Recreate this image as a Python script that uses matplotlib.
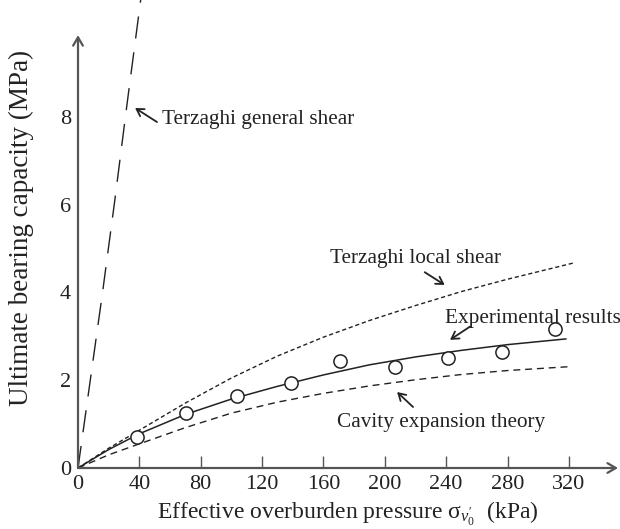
import matplotlib
matplotlib.use("Agg")
import matplotlib.pyplot as plt

plt.rcParams['font.family'] = ['Liberation Serif', 'DejaVu Serif']
plt.rcParams['mathtext.fontset'] = 'custom'
plt.rcParams['mathtext.rm'] = 'Liberation Serif'
plt.rcParams['mathtext.it'] = 'Liberation Serif:italic'

# bearing capacity curves (kPa -> MPa)
general_x = [0, 8, 16, 24, 32, 41]
general_y = [0, 2.0, 4.0, 6.1, 8.3, 10.7]

local_x = [0, 20, 40, 70, 100, 130, 160, 190, 220, 250, 280, 323]
local_y = [0, 0.45, 0.86, 1.48, 2.05, 2.55, 2.98, 3.36, 3.70, 4.02, 4.30, 4.67]

cavity_x = [0, 20, 40, 70, 100, 130, 160, 190, 220, 250, 280, 321]
cavity_y = [0, 0.30, 0.55, 0.92, 1.25, 1.50, 1.70, 1.87, 2.01, 2.13, 2.22, 2.31]

fit_x = [0, 20, 40, 70, 100, 130, 160, 190, 220, 250, 280, 318]
fit_y = [0, 0.42, 0.78, 1.22, 1.57, 1.86, 2.12, 2.35, 2.53, 2.68, 2.81, 2.94]

# experimental results
exp_x = [38.6, 70.4, 103.5, 139, 170.6, 206.5, 241.4, 276.3, 311]
exp_y = [0.71, 1.25, 1.63, 1.93, 2.44, 2.30, 2.50, 2.65, 3.16]

x_ticks = [0, 40, 80, 120, 160, 200, 240, 280, 320]
y_ticks = [0, 2, 4, 6, 8]

ink = '#222222'
axis_col = '#555555'

fig = plt.figure(figsize=(6.2, 5.29), dpi=100)
ax = fig.add_axes([78 / 620, 61 / 529, 540 / 620, 468 / 529])
ax.set_xlim(0, 352)
ax.set_ylim(0, 10.66)

for s in ax.spines.values():
    s.set_visible(False)

# axes drawn as arrows
head = '->,head_length=0.6,head_width=0.35'
ax.annotate('', xy=(352, 0), xytext=(0, 0),
            arrowprops=dict(arrowstyle=head, color=axis_col, lw=1.6,
                            shrinkA=0, shrinkB=0))
ax.annotate('', xy=(0, 9.86), xytext=(0, 0),
            arrowprops=dict(arrowstyle=head, color=axis_col, lw=1.6,
                            shrinkA=0, shrinkB=0))

ax.plot(general_x, general_y, color=ink, lw=1.0, dashes=(16, 10), clip_on=False)
ax.plot(local_x, local_y, color=ink, lw=1.0, dashes=(3, 2))
ax.plot(cavity_x, cavity_y, color=ink, lw=1.0, dashes=(5, 3.5))
ax.plot(fit_x, fit_y, color=ink, lw=1.1)
ax.plot(exp_x, exp_y, 'o', ms=9.5, mfc='white', mec=ink, mew=1.1)

ax.set_xticks(x_ticks)
ax.set_xticklabels([str(v) for v in x_ticks])
ax.set_yticks(y_ticks)
ax.set_yticklabels([str(v) for v in y_ticks])
ax.tick_params(axis='x', direction='in', length=9, width=1.0, color=axis_col,
               labelsize=16, labelcolor=ink, pad=5)
ax.tick_params(axis='y', length=0, labelsize=16, labelcolor=ink, pad=5)

ax.set_xlabel("Effective overburden pressure σ$_{v_0^{\\prime}}$  (kPa)",
              fontsize=17, color=ink, labelpad=4)
ax.set_ylabel("Ultimate bearing capacity (MPa)", fontsize=19.5, color=ink)
ax.yaxis.set_label_coords(-0.082, 0.513)

arrow = dict(arrowstyle='->,head_length=0.5,head_width=0.3', color=ink, lw=1.3,
             shrinkA=0, shrinkB=0)
fs = 15.3
ax.annotate('', xy=(37.2, 8.2), xytext=(51.5, 7.88), arrowprops=arrow)
ax.text(54.8, 7.93, "Terzaghi general shear", fontsize=fs, color=ink,
        ha='left', va='center')

ax.annotate('', xy=(239, 4.17), xytext=(226, 4.46), arrowprops=arrow)
ax.text(219.7, 4.78, "Terzaghi local shear", fontsize=fs, color=ink,
        ha='center', va='center')

ax.annotate('', xy=(242.5, 2.92), xytext=(255.5, 3.22), arrowprops=arrow)
ax.text(239, 3.4, "Experimental results", fontsize=fs, color=ink,
        ha='left', va='center')

ax.annotate('', xy=(208, 1.73), xytext=(218.4, 1.39), arrowprops=arrow)
ax.text(304.4, 1.03, "Cavity expansion theory", fontsize=fs, color=ink,
        ha='right', va='center')

fig.savefig("out.png", dpi=100)
